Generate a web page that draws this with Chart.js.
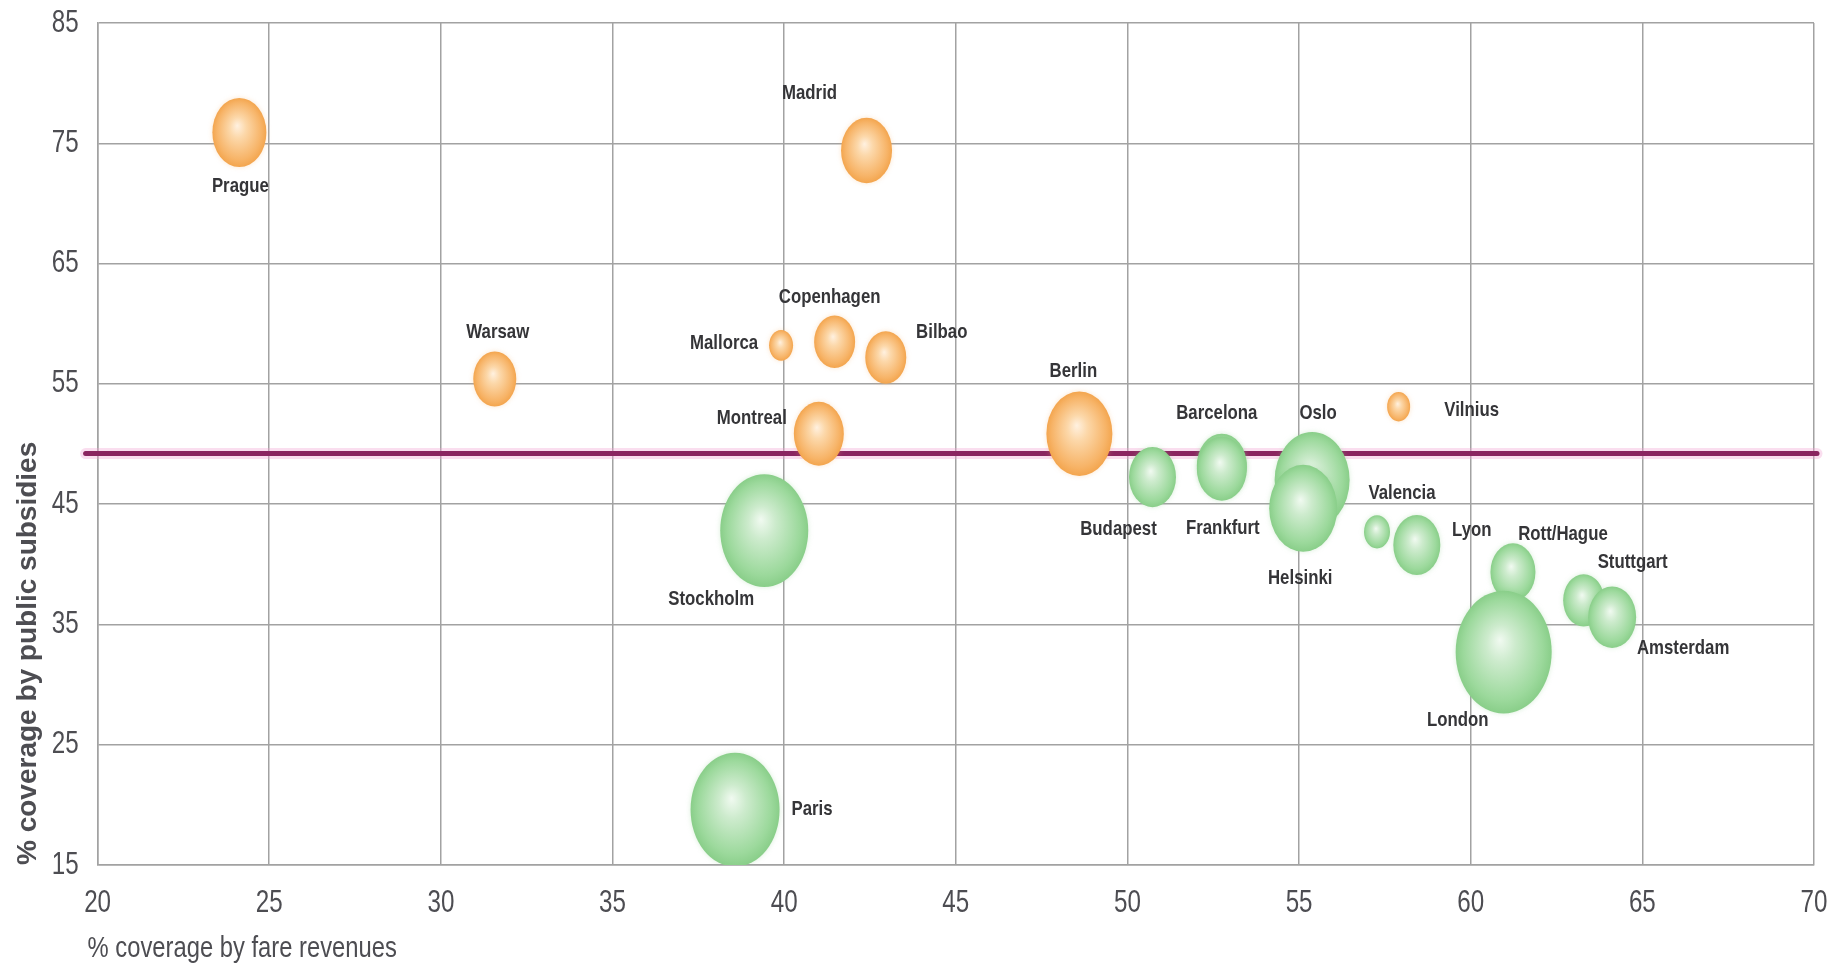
<!DOCTYPE html>
<html>
<head>
<meta charset="utf-8">
<script src="https://cdn.jsdelivr.net/npm/chart.js@4.4.1/dist/chart.umd.min.js"></script>
<style>
  html, body { margin: 0; padding: 0; background: #ffffff; }
  #wrap { width: 1843px; height: 968px; }
</style>
</head>
<body>
<div id="wrap"><canvas id="chart" width="1843" height="968"></canvas></div>
<script>
// Ciudades por encima de la línea de referencia (naranja)
const orangeCities = ['Prague', 'Madrid', 'Warsaw', 'Mallorca', 'Copenhagen', 'Bilbao', 'Montreal', 'Berlin', 'Vilnius'];
const orangeFare = [24.13, 42.4, 31.57, 39.91, 41.47, 42.96, 41.01, 48.6, 57.9];
const orangeSubsidy = [75.9, 74.4, 55.4, 58.2, 58.5, 57.2, 50.85, 50.85, 53.1];
const orangeSize = [27, 25.5, 21.5, 12, 20.5, 20.5, 25, 33, 11.5];

// Ciudades por debajo (verde)
const greenCities = ['Stockholm', 'Paris', 'Budapest', 'Barcelona', 'Frankfurt', 'Oslo', 'Helsinki', 'Valencia', 'Lyon', 'Rott/Hague', 'London', 'Stuttgart', 'Amsterdam'];
const greenFare = [39.42, 38.57, 50.73, 52.75, 52.75, 55.38, 55.12, 57.27, 58.43, 61.23, 60.96, 63.29, 64.12];
const greenSubsidy = [42.8, 19.6, 47.25, 48.2, 47.95, 47.0, 44.65, 42.7, 41.6, 39.35, 32.7, 37.0, 35.6];
const greenSize = [44, 44.5, 23.5, 25, 25, 37.5, 34, 13, 23.5, 22.5, 48, 20.5, 24];

// Línea de referencia horizontal
const referenceSubsidy = 49.2;

// Ejes
const xTicks = [20, 25, 30, 35, 40, 45, 50, 55, 60, 65, 70];
const yTicks = [15, 25, 35, 45, 55, 65, 75, 85];
const xTitle = '% coverage by fare revenues';
const yTitle = '% coverage by public subsidies';

// Desplazamiento de cada etiqueta respecto al centro de su burbuja (px)
const orangeLabelOffsets = [[1, 54], [-57, -57], [3, -47], [-57, -2], [-5, -45], [56, -25], [-67, -16], [-6, -63], [73, 3]];
const greenLabelOffsets = [[-53, 69], [77, 0], [-34, 52], [-5, -52], [1, 60], [6, -67], [-3, 70], [25, -39], [55, -15], [50, -38], [-46, 68], [49, -38], [71, 31]];

const BUBBLE_STRETCH = 1.28;
const SANS = "'Liberation Sans', Arial, sans-serif";
const AXIS_TEXT = '#4d4d52';

const palettes = {
  orange: { stops: ['#fff1e0', '#fcd8aa', '#f7b468', '#f3a54e'], glow: 'rgba(245, 170, 90, 0.3)' },
  green: { stops: ['#f1faf1', '#cdebcd', '#9cd99c', '#89ce89'], glow: 'rgba(130, 200, 130, 0.3)' },
};

function toPoints(xs, ys, rs) {
  return xs.map((x, i) => ({ x, y: ys[i], r: rs[i] }));
}

// Texto estrechado horizontalmente (la tipografía condensada no está disponible)
function narrowText(ctx, text, x, y, squeeze) {
  ctx.save();
  ctx.translate(x, y);
  ctx.scale(squeeze, 1);
  ctx.fillText(text, 0, 0);
  ctx.restore();
}

// Burbujas elípticas con degradado radial, dibujadas sobre los elementos ya posicionados
const ellipseBubbles = {
  id: 'ellipseBubbles',
  beforeDatasetDraw(chart, args) {
    const ds = chart.data.datasets[args.index];
    const pal = palettes[ds.palette];
    if (!pal) return;
    const ctx = chart.ctx;
    const area = chart.chartArea;
    ctx.save();
    ctx.beginPath();
    ctx.rect(area.left, area.top, area.right - area.left, area.bottom - area.top);
    ctx.clip();
    args.meta.data.forEach((el) => {
      const rx = el.options.radius;
      ctx.save();
      ctx.translate(el.x, el.y);
      ctx.scale(1, BUBBLE_STRETCH);
      const g = ctx.createRadialGradient(-0.08 * rx, -0.2 * rx, 0, 0, 0, rx);
      g.addColorStop(0, pal.stops[0]);
      g.addColorStop(0.3, pal.stops[1]);
      g.addColorStop(0.82, pal.stops[2]);
      g.addColorStop(1, pal.stops[3]);
      ctx.shadowColor = pal.glow;
      ctx.shadowBlur = 5;
      ctx.beginPath();
      ctx.arc(0, 0, rx, 0, Math.PI * 2);
      ctx.fillStyle = g;
      ctx.fill();
      ctx.restore();
    });
    ctx.restore();
    return false;
  },
  afterDatasetsDraw(chart) {
    const ctx = chart.ctx;
    ctx.save();
    ctx.font = 'bold 21px ' + SANS;
    ctx.fillStyle = '#353538';
    ctx.textAlign = 'center';
    ctx.textBaseline = 'middle';
    chart.data.datasets.forEach((ds, i) => {
      const meta = chart.getDatasetMeta(i);
      meta.data.forEach((el, j) => {
        const off = ds.labelOffsets[j];
        narrowText(ctx, ds.cities[j], el.x + off[0], el.y + off[1], 0.8);
      });
    });
    ctx.restore();
  },
};

// Etiquetas de los ejes y título horizontal, con letra estrecha
const axisText = {
  id: 'axisText',
  afterDraw(chart) {
    const { ctx, chartArea, scales } = chart;
    ctx.save();
    ctx.fillStyle = AXIS_TEXT;
    ctx.font = '31px ' + SANS;
    ctx.textBaseline = 'middle';
    ctx.textAlign = 'right';
    scales.y.ticks.forEach((t) => {
      narrowText(ctx, String(t.value), chartArea.left - 19, scales.y.getPixelForValue(t.value), 0.78);
    });
    ctx.textAlign = 'center';
    scales.x.ticks.forEach((t) => {
      narrowText(ctx, String(t.value), scales.x.getPixelForValue(t.value), chartArea.bottom + 38, 0.78);
    });
    ctx.font = '29px ' + SANS;
    ctx.textAlign = 'left';
    narrowText(ctx, xTitle, chartArea.left - 10, chartArea.bottom + 84, 0.82);
    ctx.restore();
  },
};

// Línea horizontal magenta, por debajo de las burbujas
const referenceLine = {
  id: 'referenceLine',
  beforeDatasetsDraw(chart) {
    const { ctx, chartArea, scales } = chart;
    const y = scales.y.getPixelForValue(referenceSubsidy);
    const x0 = chartArea.left - 12;
    const x1 = chartArea.right + 3;
    ctx.save();
    ctx.lineCap = 'round';
    ctx.strokeStyle = 'rgba(240, 160, 210, 0.35)';
    ctx.lineWidth = 11;
    ctx.beginPath(); ctx.moveTo(x0, y); ctx.lineTo(x1, y); ctx.stroke();
    ctx.strokeStyle = '#8a2560';
    ctx.lineWidth = 5;
    ctx.beginPath(); ctx.moveTo(x0, y); ctx.lineTo(x1, y); ctx.stroke();
    ctx.restore();
  },
};

new Chart(document.getElementById('chart'), {
  type: 'bubble',
  data: {
    datasets: [
      {
        label: 'Orange',
        palette: 'orange',
        cities: orangeCities,
        labelOffsets: orangeLabelOffsets,
        data: toPoints(orangeFare, orangeSubsidy, orangeSize),
        backgroundColor: '#f5ad5c',
        borderWidth: 0,
      },
      {
        label: 'Green',
        palette: 'green',
        cities: greenCities,
        labelOffsets: greenLabelOffsets,
        data: toPoints(greenFare, greenSubsidy, greenSize),
        backgroundColor: '#93d593',
        borderWidth: 0,
      },
    ],
  },
  options: {
    responsive: false,
    animation: false,
    layout: { autoPadding: false, padding: { left: 4, top: 23, right: 29, bottom: 103 } },
    plugins: {
      legend: { display: false },
      tooltip: { enabled: false },
    },
    scales: {
      x: {
        type: 'linear',
        min: 20,
        max: 70,
        afterBuildTicks: (scale) => { scale.ticks = xTicks.map((v) => ({ value: v })); },
        grid: { color: '#a2a2a2', lineWidth: 1.5, drawTicks: false },
        border: { color: '#a2a2a2', width: 1.5 },
        ticks: { display: false },
      },
      y: {
        type: 'linear',
        min: 15,
        max: 85,
        afterBuildTicks: (scale) => { scale.ticks = yTicks.map((v) => ({ value: v })); },
        grid: { color: '#a2a2a2', lineWidth: 1.5, drawTicks: false },
        border: { color: '#a2a2a2', width: 1.5 },
        ticks: { display: false },
        title: {
          display: true,
          text: yTitle,
          align: 'start',
          color: AXIS_TEXT,
          padding: { top: 7, bottom: 53 },
          font: { family: SANS, size: 28, weight: 'bold' },
        },
      },
    },
  },
  plugins: [referenceLine, ellipseBubbles, axisText],
});
</script>
</body>
</html>
